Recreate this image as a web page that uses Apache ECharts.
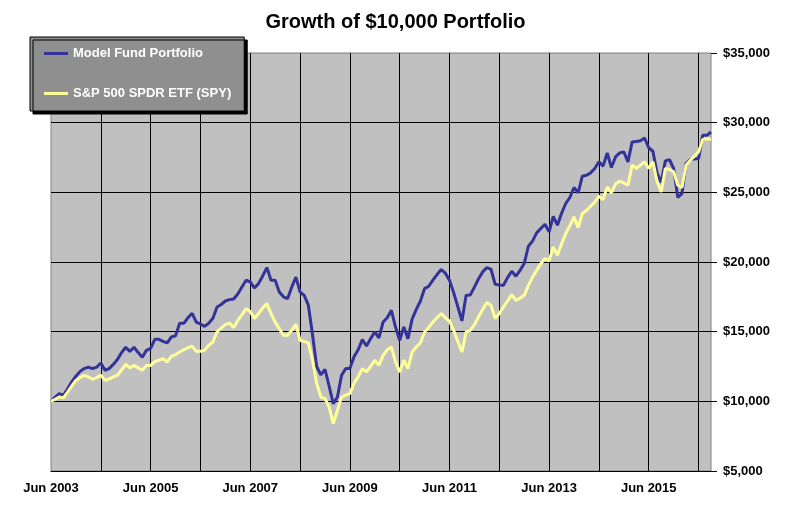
<!DOCTYPE html>
<html>
<head>
<meta charset="utf-8">
<script src="https://cdn.jsdelivr.net/npm/echarts@6/dist/echarts.min.js"></script>
<style>
  html, body { margin: 0; padding: 0; background: #fff; }
  #chart { width: 791px; height: 514px; }
</style>
</head>
<body>
<div id="chart"></div>
<script>
// month-end values, Jun 2003 .. Sep 2016
var monthNames = ['Jan','Feb','Mar','Apr','May','Jun','Jul','Aug','Sep','Oct','Nov','Dec'];
var startYear = 2003, startMonth = 5, monthCount = 160;

var seriesNames = ['Model Fund Portfolio', 'S&P 500 SPDR ETF (SPY)'];

var modelFund = [
  10000,10300,10550,10430,10900,11400,11800,12150,12350,12450,12350,12450,
  12750,12230,12350,12650,13000,13500,13880,13590,13880,13500,13160,13660,
  13800,14450,14450,14300,14190,14620,14700,15600,15600,16000,16320,15690,
  15550,15380,15600,15960,16770,16950,17200,17300,17350,17700,18200,18690,
  18570,18140,18450,19000,19600,18690,18690,17850,17500,17370,18200,18920,
  17850,17610,16900,14800,12500,11900,12300,11100,9830,10310,11870,12350,
  12350,13200,13700,14430,13970,14500,14980,14550,15690,16000,16530,15330,
  14380,15330,14500,15900,16600,17200,18090,18260,18700,19100,19460,19200,
  18700,17800,16800,15770,17610,17630,18200,18800,19290,19600,19480,18400,
  18350,18330,18880,19340,18980,19400,19890,21130,21500,22090,22400,22710,
  22160,23280,22640,23500,24200,24630,25350,24960,26160,26230,26400,26710,
  27190,26880,27830,26780,27540,27830,27900,27190,28620,28650,28700,28900,
  28200,27950,26400,25700,27260,27350,26710,24630,24910,27070,27350,27400,
  27420,29090,29090,29330
];

var spy = [
  10000,10150,10310,10250,10670,11100,11500,11700,11870,11750,11580,11700,
  11870,11500,11600,11750,11870,12250,12650,12400,12580,12400,12230,12580,
  12580,12850,12950,13060,12820,13230,13350,13540,13700,13850,13950,13600,
  13590,13660,14020,14260,14980,15250,15500,15620,15290,15810,16200,16650,
  16450,15940,16300,16700,17010,16300,15690,15200,14740,14740,15100,15530,
  14380,14300,14200,12950,11300,10310,10190,9600,8400,9350,10310,10450,
  10550,11300,11750,12350,12110,12500,12950,12580,13300,13700,13900,12820,
  12100,12950,12350,13540,13900,14200,14980,15300,15690,16000,16300,16000,
  15770,15100,14300,13540,14980,15100,15500,16050,16600,17090,16890,15940,
  16300,16770,17200,17660,17250,17400,17610,18300,18920,19400,19880,20250,
  20080,21080,20480,21300,22040,22600,23240,22470,23480,23700,24000,24300,
  24720,24480,25390,24960,25600,25800,25680,25510,26950,26710,26950,27190,
  26710,27190,25800,25030,26710,26640,26470,25510,25350,26950,27300,27600,
  27900,28800,28850,28800
];

var yTicks = [5000, 10000, 15000, 20000, 25000, 30000, 35000];

var months = [];
for (var i = 0; i < monthCount; i++) {
  var mi = startMonth + i;
  months.push(monthNames[mi % 12] + ' ' + (startYear + Math.floor(mi / 12)));
}

var myChart = echarts.init(document.getElementById('chart'));
var font = '"Liberation Sans", Arial, sans-serif';

var option = {
  backgroundColor: '#ffffff',
  animation: false,
  title: {
    text: 'Growth of $10,000 Portfolio',
    left: 'center',
    top: 7,
    textStyle: { fontFamily: font, fontSize: 20, fontWeight: 'bold', color: '#000' }
  },
  legend: {
    orient: 'vertical',
    left: 30,
    top: 37,
    padding: [10, 13, 11, 14],
    itemGap: 27,
    itemWidth: 24,
    itemHeight: 3,
    backgroundColor: '#8f8f8f',
    borderColor: '#000',
    borderWidth: 1,
    shadowColor: '#000',
    shadowOffsetX: 3,
    shadowOffsetY: 3,
    shadowBlur: 0,
    data: [
      { name: seriesNames[0], icon: 'rect' },
      { name: seriesNames[1], icon: 'rect' }
    ],
    textStyle: { fontFamily: font, fontSize: 13, fontWeight: 'bold', color: '#ffffff' }
  },
  grid: {
    left: 51,
    right: 80,
    top: 53,
    bottom: 43,
    show: true,
    backgroundColor: '#c0c0c0',
    borderColor: '#808080',
    borderWidth: 1
  },
  xAxis: {
    type: 'category',
    boundaryGap: false,
    data: months,
    axisLine: { lineStyle: { color: '#000', width: 1 } },
    axisTick: { show: false },
    axisLabel: {
      interval: 23,
      margin: 11,
      fontFamily: font, fontSize: 13, fontWeight: 'bold', color: '#000'
    },
    splitLine: {
      show: true,
      interval: function (idx) { return idx > 0 && idx % 12 === 0; },
      lineStyle: { color: '#000', width: 1 }
    }
  },
  yAxis: {
    type: 'value',
    position: 'right',
    min: yTicks[0],
    max: yTicks[yTicks.length - 1],
    interval: 5000,
    axisLine: { show: false },
    axisTick: { show: true, length: 6, lineStyle: { color: '#000' } },
    axisLabel: {
      margin: 12,
      fontFamily: font, fontSize: 13, fontWeight: 'bold', color: '#000',
      formatter: function (v) { return '$' + v.toLocaleString('en-US'); }
    },
    splitLine: { show: true, showMaxLine: false, lineStyle: { color: '#000', width: 1 } }
  },
  series: [
    {
      name: seriesNames[0],
      type: 'line',
      data: modelFund,
      symbol: 'none',
      color: '#333399',
      lineStyle: { color: '#333399', width: 3 }
    },
    {
      name: seriesNames[1],
      type: 'line',
      data: spy,
      symbol: 'none',
      color: '#ffff99',
      lineStyle: { color: '#ffff99', width: 3 }
    }
  ]
};

myChart.setOption(option);
</script>
</body>
</html>
